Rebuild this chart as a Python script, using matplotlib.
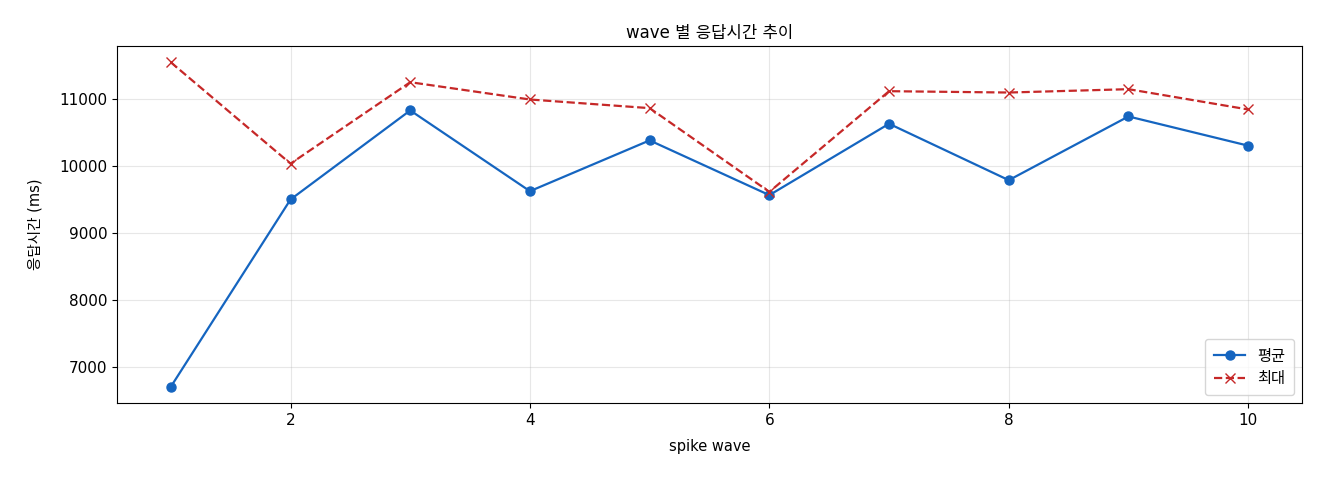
import matplotlib
matplotlib.use("Agg")
import matplotlib.pyplot as plt

plt.rcParams['font.family'] = ['DejaVu Sans', 'Noto Sans CJK KR']
plt.rcParams['axes.unicode_minus'] = False

# 데이터
waves = [1, 2, 3, 4, 5, 6, 7, 8, 9, 10]
avg_ms = [6703, 9498, 10827, 9622, 10380, 9563, 10628, 9786, 10737, 10301]
max_ms = [11545, 10033, 11248, 10990, 10861, 9612, 11114, 11094, 11144, 10841]

fig, ax = plt.subplots(figsize=(13.2, 4.8), dpi=100)
ax.plot(waves, avg_ms, marker='o', color='#1565C0', linewidth=1.6, markersize=6.5, label='평균')
ax.plot(waves, max_ms, marker='x', linestyle='--', color='#C62828', linewidth=1.6, markersize=7, label='최대')

ax.set_title('wave 별 응답시간 추이', fontsize=12)
ax.set_xlabel('spike wave', fontsize=10.5, labelpad=8)
ax.set_ylabel('응답시간 (ms)', fontsize=10.5, labelpad=12)
ax.tick_params(labelsize=11)
ax.grid(True, alpha=0.3)
ax.legend(loc='lower right', fontsize=11, borderpad=0.6)

fig.subplots_adjust(left=0.0886, right=0.9864, top=0.904, bottom=0.1604)
plt.savefig('out.png')
